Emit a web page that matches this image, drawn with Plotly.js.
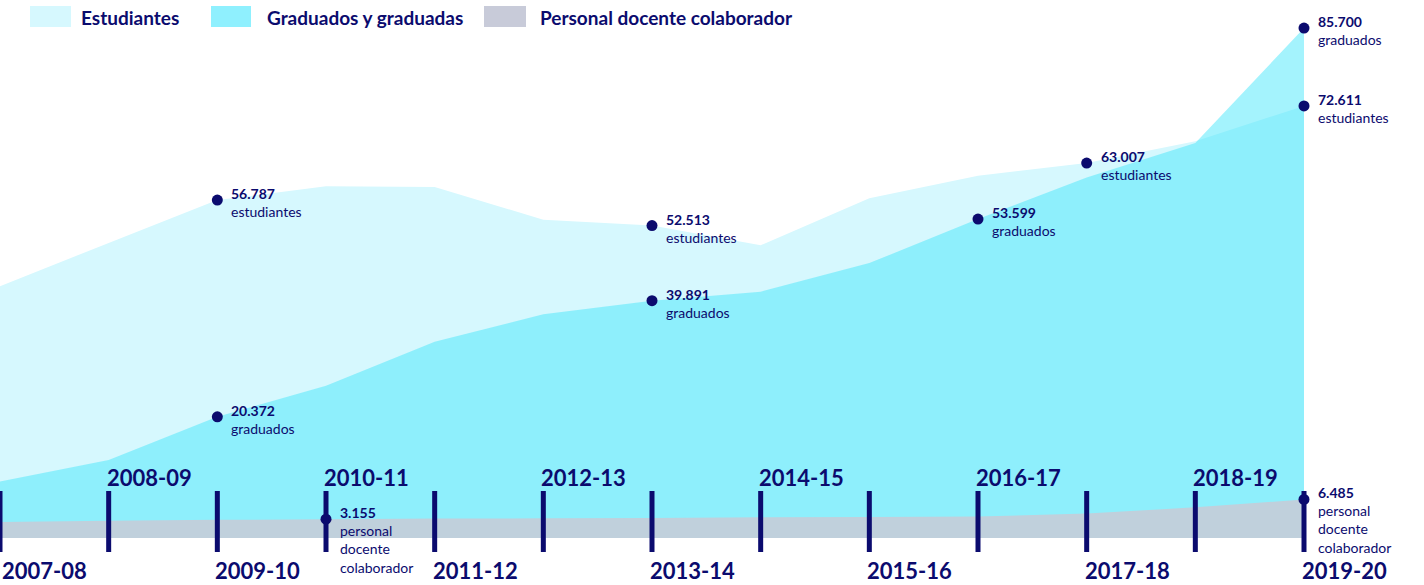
<!DOCTYPE html>
<html>
<head>
<meta charset="utf-8">
<script src="https://cdn.plot.ly/plotly-3.0.1.min.js"></script>
<style>
html,body{margin:0;padding:0;background:#ffffff;}
#chart{width:1424px;height:585px;}
</style>
</head>
<body>
<div id="chart"></div>
<script>
// ---------- DATA ----------
const years = ['2007-08','2008-09','2009-10','2010-11','2011-12','2012-13','2013-14',
               '2014-15','2015-16','2016-17','2017-18','2018-19','2019-20'];
const estudiantes = [42300, 49600, 56787, 59100, 59000, 53500, 52513, 49200, 57100, 60900, 63007, 66700, 72611];
const graduados   = [9500, 13100, 20372, 25600, 33000, 37600, 39891, 41400, 46200, 53599, 60600, 66400, 85700];
const personal    = [2700, 2900, 3050, 3155, 3290, 3300, 3350, 3500, 3550, 3600, 4100, 5150, 6485];

// years whose value is called out on the chart
const estCallouts  = ['2009-10','2013-14','2017-18','2019-20'];
const gradCallouts = ['2009-10','2013-14','2016-17','2019-20'];
const persCallouts = ['2010-11','2019-20'];

const seriesNames = ['Estudiantes','Graduados y graduadas','Personal docente colaborador'];
const calloutSuffix = ['estudiantes','graduados','personal<br>docente<br>colaborador'];

// ---------- STYLE ----------
const NAVY = '#0b0b6e';
const FONT = 'Lato, "Open Sans", sans-serif';
const colEst  = '#d6f8fe';
const colGrad = 'rgba(62,229,251,0.47)';
const colPers = '#c0d0dc';
const legendSwatch = ['#d6f8fe', '#8ff0fe', '#c8cbd9'];

const W = 1424, H = 585;
const py = p => 1 - p / H;   // pixel row -> paper coordinate
const px = p => p / W;

function fmt(v){ return String(v).replace(/\B(?=(\d{3})+(?!\d))/g, '.'); }

const traces = [
  {x: years, y: estudiantes, type:'scatter', mode:'none', fill:'tozeroy', fillcolor: colEst, name: seriesNames[0]},
  {x: years, y: graduados,   type:'scatter', mode:'none', fill:'tozeroy', fillcolor: colGrad, name: seriesNames[1]},
  {x: years, y: personal,    type:'scatter', mode:'none', fill:'tozeroy', fillcolor: colPers, name: seriesNames[2]}
];

// callout markers + labels
const mx = [], my = [];
const annotations = [];
const groups = [[estCallouts, estudiantes, 0],[gradCallouts, graduados, 1],[persCallouts, personal, 2]];
groups.forEach(([yrs, vals, k]) => {
  yrs.forEach(yr => {
    const v = vals[years.indexOf(yr)];
    mx.push(yr); my.push(v);
    annotations.push({
      x: yr, y: v, xref:'x', yref:'y', xanchor:'left', yanchor:'top',
      xshift: 12, yshift: 17, align:'left', showarrow:false,
      text: '<b>' + fmt(v) + '</b><br>' + calloutSuffix[k],
      font:{family: FONT, size: 14, color: NAVY}
    });
  });
});
traces.push({x: mx, y: my, type:'scatter', mode:'markers',
  marker:{size:11, color: NAVY}, showlegend:false, hoverinfo:'skip'});

// year ticks and labels
const shapes = [];
years.forEach((yr, i) => {
  shapes.push({type:'line', xref:'x', yref:'paper', x0: yr, x1: yr, y0: py(552), y1: py(491),
    line:{color: NAVY, width: 5}, layer:'above'});
  const top = (i % 2 === 1);
  annotations.push({x: yr, xref:'x', yref:'paper', y: top ? py(477) : py(570),
    xanchor:'left', yanchor:'middle', xshift: i === 0 ? 0 : -4, showarrow:false,
    text:'<b>' + yr + '</b>', font:{family: FONT, size: 22, color: NAVY}});
});

// legend
const legX = [[30, 71, 79], [211, 251, 265], [484, 526, 538]];
seriesNames.forEach((n, k) => {
  shapes.push({type:'rect', xref:'paper', yref:'paper', x0: px(legX[k][0]), x1: px(legX[k][1]),
    y0: py(27), y1: py(6), fillcolor: legendSwatch[k], line:{width:0}, layer:'above'});
  annotations.push({xref:'paper', yref:'paper', x: px(legX[k][2]), y: py(17), xanchor:'left', yanchor:'middle',
    showarrow:false, text:'<b>' + n + '</b>', font:{family: FONT, size: 19, color: NAVY}});
});

const pxPerIdx = 1304 / 12;
const pxPerUnit = 5.95 / 1000;
const layout = {
  width: W, height: H,
  margin:{l:0, r:0, t:0, b:0, pad:0},
  paper_bgcolor:'#ffffff', plot_bgcolor:'#ffffff',
  showlegend:false, hovermode:false,
  xaxis:{type:'category', range:[0, W / pxPerIdx], showgrid:false, zeroline:false,
         showline:false, showticklabels:false, ticks:''},
  yaxis:{range:[-47 / pxPerUnit, 538 / pxPerUnit], showgrid:false, zeroline:false,
         showline:false, showticklabels:false, ticks:''},
  shapes: shapes,
  annotations: annotations
};

Plotly.newPlot('chart', traces, layout, {staticPlot:true, displayModeBar:false});
</script>
</body>
</html>
